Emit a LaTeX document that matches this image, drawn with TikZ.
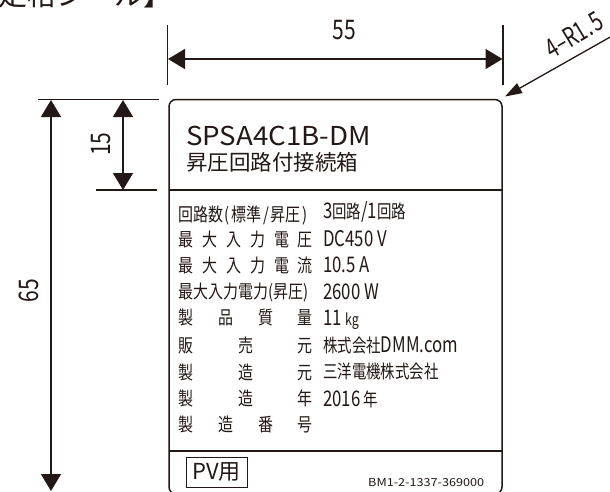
\documentclass[tikz,border=0pt]{standalone}
\usepackage{fontspec}
\setmainfont{Noto Sans CJK JP}
\usetikzlibrary{arrows.meta}
\definecolor{ink}{HTML}{231815}
\newcommand{\lat}[1]{{\fontsize{21.5}{20}\selectfont #1}}
\tikzset{
 x=1pt,y=-1pt,
 dimline/.style={draw=ink,line width=1.3pt},
 thickline/.style={draw=ink,line width=1.5pt},
 dimarrow/.style={draw=ink,line width=1.3pt,{Triangle[length=17pt,width=20pt]}-{Triangle[length=17pt,width=20pt]}},
 tlabel/.style={inner sep=0pt,text=ink,anchor=base west,font=\fontsize{18.5}{18.5}\selectfont,xscale=.78},
 rlabel/.style={inner sep=0pt,text=ink,anchor=base west,font=\fontsize{18.5}{18.5}\selectfont,xscale=.81},
 dimtext/.style={inner sep=0pt,text=ink,font=\fontsize{27}{27}\selectfont},
}
\begin{document}
\begin{tikzpicture}
\useasboundingbox (0,0) rectangle (610,491);
\clip (0,0) rectangle (610,491);
\fill[white] (0,0) rectangle (610,491);
% cut-off title
\node[inner sep=0pt,text=ink,anchor=base west,font=\fontsize{29}{29}\selectfont] (title) at (-2,5) {定格シール】};
% plate
\draw[thickline,rounded corners=7pt] (169,99.5) rectangle (502,494);
\coordinate (hl1) at (169,190); \coordinate (hr1) at (502,190);
\coordinate (hl2) at (169,451); \coordinate (hr2) at (502,451);
\draw[thickline] (hl1)--(hr1);
\draw[thickline] (hl2)--(hr2);
% dimension ticks
\coordinate (t1a) at (167.5,25); \coordinate (t1b) at (167.5,85);
\coordinate (t2a) at (503,25); \coordinate (t2b) at (503,85);
\coordinate (t3a) at (38,99.5); \coordinate (t3b) at (159,99.5);
\coordinate (t4a) at (96,190); \coordinate (t4b) at (157,190);
\draw[dimline] (t1a)--(t1b) (t2a)--(t2b) (t3a)--(t3b) (t4a)--(t4b);
% dimension arrows
\coordinate (w1) at (168,59); \coordinate (w2) at (502.5,59);
\draw[dimarrow] (w1)--(w2);
\coordinate (h1) at (51,100); \coordinate (h2) at (51,491);
\draw[dimarrow] (h1)--(h2);
\coordinate (s1) at (123,100); \coordinate (s2) at (123,190);
\draw[dimarrow] (s1)--(s2);
\coordinate (ls) at (612,36); \coordinate (le) at (505,96.5);
\draw[draw=ink,line width=1.3pt,-{Triangle[length=17pt,width=11pt]}] (ls)--(le);
% dimension labels
\node[dimtext] (d55) at (344,30) {\scalebox{.78}[1]{55}};
\node[dimtext,rotate=90] (d15) at (101,144) {\scalebox{.78}[1]{15}};
\node[dimtext,rotate=90] (d65) at (29,290.5) {\scalebox{.78}[1]{65}};
\node[inner sep=0pt,text=ink,rotate=31,font=\fontsize{27}{27}\selectfont] (dr) at (574,35) {\scalebox{.72}[1]{4–R1.\hspace{3pt}5}};
% header
\node[inner sep=0pt,text=ink,anchor=base west,font=\fontsize{26}{26}\selectfont] (model) at (186,145) {\scalebox{1.065}[1]{SPSA4C1B-DM}};
\node[inner sep=0pt,text=ink,anchor=base west,font=\fontsize{21.5}{21.5}\selectfont] (sub) at (186,170.5) {昇圧回路付接続箱};
% left column
\node[rlabel] (a) at (178,221) {回路数\hspace{2pt}(\hspace{2pt}標準\hspace{2pt}/\hspace{2pt}昇圧\hspace{2pt})};
\node[rlabel] (e) at (178,298) {最大入力電力(昇圧)};
\foreach \n/\yy/\cx/\cw in {
 b1/246/178/最,b2/246/202/大,b3/246/226/入,b4/246/250/力,b5/246/274/電,b6/246/297/圧,
 c1/272/178/最,c2/272/202/大,c3/272/226/入,c4/272/250/力,c5/272/274/電,c6/272/297/流,
 f1/324/178/製,f2/324/218/品,f3/324/258/質,f4/324/297/量,
 g1/352/178/販,g2/352/238/売,g3/352/297/元,
 h1/379/178/製,h2/379/238/造,h3/379/297/元,
 i1/405/178/製,i2/405/238/造,i3/405/297/年,
 j1/431/178/製,j2/431/218/造,j3/431/258/番,j4/431/297/号}{
  \node[rlabel] (\n) at (\cx,\yy) {\cw};
}
% right column
\foreach \n/\yy/\txt in {
 ra/218.5/{\lat{3}回路\lat{/1}回路},
 rb/246/{\lat{DC450 V}},
 rc/272.5/{\lat{10.5 A}},
 rd/299/{\lat{2600 W}},
 re/325/{\lat{11} {\fontsize{16}{16}\selectfont kg}},
 rf/352.5/{株式会社\lat{DMM.com}},
 rg/378/{三洋電機株式会社},
 rh/406/{\lat{2016} 年}}{
  \node[tlabel] (\n) at (323,\yy) {\txt};
}
% footer
\node[draw=ink,line width=.9pt,inner sep=0pt,minimum width=61pt,minimum height=30pt,text=ink,font=\fontsize{22}{22}\selectfont] (pv) at (216.5,472) {PV用};
\node[inner sep=0pt,text=ink,anchor=base west,font=\fontsize{11}{11}\selectfont] (code) at (368,486) {\scalebox{1.15}[1]{BM1-2-1337-369000}};
\end{tikzpicture}
\end{document}
